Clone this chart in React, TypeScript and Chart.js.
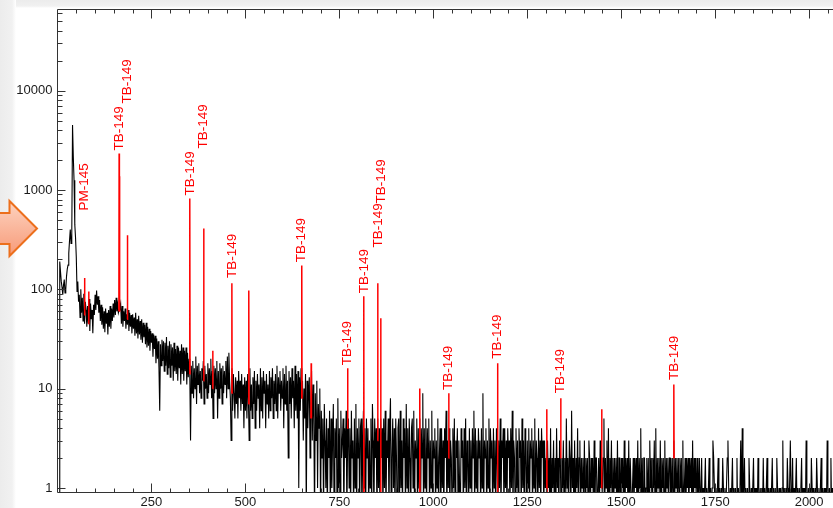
import { useEffect, useRef } from "react";
import { Chart, registerables } from "chart.js";

Chart.register(...registerables);

// ---- data ----
const CH_STEP = 2; // channels between successive spectrum samples
// counts per sample, channel = index * CH_STEP (0 .. 2066)
const spectrumCounts = [
  0, 0, 0, 190, 150, 120, 105, 88, 110, 125,
  92, 100, 135, 160, 175, 230, 310, 400, 290, 360,
  4500, 2200, 1250, 450, 330, 210, 95, 120, 75, 88,
  52, 100, 58, 82, 48, 90, 45, 75, 62, 42,
  68, 45, 80, 38, 72, 50, 62, 36, 70, 55,
  88, 62, 97, 70, 85, 58, 78, 48, 70, 44,
  66, 40, 60, 37, 64, 45, 58, 35, 62, 42,
  68, 40, 64, 48, 72, 52, 78, 55, 82, 60,
  70, 58, 62, 66, 72, 45, 68, 42, 60, 48,
  64, 40, 56, 44, 62, 38, 58, 42, 55, 36,
  56, 40, 52, 34, 58, 36, 50, 32, 54, 35,
  48, 31, 50, 29, 46, 33, 44, 28, 46, 26,
  42, 27, 40, 24, 38, 29, 36, 21, 35, 25,
  34, 18, 32, 20, 30, 16, 6, 28, 17, 31,
  19, 30, 15, 29, 17, 33, 14, 27, 16, 30,
  13, 28, 17, 26, 12, 29, 15, 25, 14, 27,
  12, 26, 16, 24, 11, 28, 14, 26, 12, 24,
  15, 26, 11, 23, 13, 20, 14, 3, 17, 9,
  19, 8, 16, 10, 21, 7, 17, 11, 18, 9,
  15, 8, 16, 12, 19, 7, 17, 10, 14, 8,
  18, 9, 16, 11, 20, 8, 15, 5, 17, 9,
  16, 10, 19, 5, 15, 8, 18, 10, 16, 7,
  17, 9, 15, 11, 19, 8, 21, 10, 23, 12,
  8, 3, 16, 6, 14, 9, 5, 13, 7, 12,
  5, 15, 8, 12, 6, 14, 7, 11, 4, 13,
  6, 12, 5, 14, 8, 3, 16, 6, 11, 5,
  13, 7, 15, 4, 12, 6, 14, 8, 11, 4,
  16, 6, 13, 5, 15, 9, 12, 4, 14, 7,
  11, 5, 15, 6, 13, 8, 16, 5, 12, 7,
  14, 6, 17, 5, 13, 9, 15, 6, 12, 8,
  16, 4, 14, 7, 17, 6, 12, 2, 15, 7,
  13, 5, 16, 8, 12, 4, 17, 6, 14, 5,
  15, 1, 13, 6, 16, 8, 12, 3, 10, 5,
  14, 0, 12, 4, 9, 13, 2, 7, 15, 3,
  11, 5, 0, 9, 3, 12, 1, 7, 4, 10,
  0, 6, 2, 5, 0, 7, 3, 1, 5, 0,
  4, 2, 6, 0, 5, 1, 3, 7, 0, 4,
  2, 5, 0, 8, 1, 4, 0, 6, 2, 3,
  5, 0, 4, 2, 6, 0, 3, 5, 1, 4,
  0, 6, 2, 3, 0, 5, 1, 7, 0, 4,
  2, 5, 0, 4, 5, 0, 2, 6, 1, 4,
  0, 5, 2, 4, 0, 3, 1, 5, 0, 7,
  3, 0, 5, 2, 4, 0, 5, 1, 4, 0,
  5, 2, 4, 0, 5, 1, 6, 0, 3, 2,
  5, 0, 4, 8, 0, 2, 5, 1, 4, 0,
  5, 2, 0, 4, 5, 0, 6, 1, 3, 0,
  5, 2, 4, 0, 7, 1, 4, 0, 5, 2,
  0, 4, 5, 1, 6, 0, 3, 2, 5, 0,
  4, 1, 5, 0, 4, 2, 9, 0, 4, 1,
  5, 0, 4, 2, 5, 0, 3, 1, 6, 0,
  3, 2, 4, 0, 3, 1, 5, 0, 2, 4,
  0, 4, 1, 3, 0, 4, 2, 6, 0, 3,
  1, 4, 0, 3, 2, 0, 4, 1, 5, 0,
  3, 2, 4, 0, 3, 1, 0, 4, 2, 3,
  0, 4, 1, 5, 0, 3, 2, 0, 4, 1,
  3, 0, 4, 2, 6, 0, 4, 1, 3, 0,
  4, 2, 3, 0, 4, 1, 9, 0, 3, 2,
  4, 0, 3, 1, 5, 0, 4, 2, 3, 0,
  4, 1, 3, 0, 4, 2, 0, 3, 1, 5,
  0, 3, 2, 4, 0, 4, 1, 3, 0, 4,
  2, 3, 0, 4, 1, 6, 0, 3, 2, 0,
  4, 1, 3, 0, 4, 2, 3, 0, 5, 1,
  3, 0, 4, 2, 0, 3, 1, 4, 0, 3,
  2, 4, 0, 3, 1, 5, 0, 3, 2, 0,
  4, 1, 3, 0, 4, 2, 3, 0, 3, 1,
  2, 0, 3, 1, 2, 0, 4, 0, 2, 1,
  3, 0, 2, 0, 4, 1, 2, 0, 3, 2,
  0, 2, 1, 3, 0, 2, 0, 5, 1, 2,
  0, 3, 2, 0, 6, 1, 2, 0, 3, 0,
  2, 1, 4, 0, 2, 3, 0, 2, 1, 2,
  0, 3, 0, 2, 1, 2, 0, 3, 2, 0,
  2, 1, 2, 0, 3, 0, 2, 2, 0, 1,
  2, 0, 3, 1, 2, 0, 2, 5, 0, 2,
  1, 3, 0, 4, 0, 2, 1, 3, 0, 2,
  0, 2, 1, 2, 0, 3, 0, 2, 2, 0,
  2, 1, 2, 0, 3, 0, 2, 1, 2, 0,
  3, 0, 2, 2, 0, 1, 2, 0, 2, 1,
  2, 0, 3, 0, 2, 1, 4, 0, 2, 0,
  2, 2, 0, 1, 2, 0, 2, 0, 3, 1,
  2, 0, 2, 1, 3, 0, 4, 0, 2, 1,
  2, 0, 3, 0, 2, 1, 2, 0, 3, 0,
  2, 1, 2, 0, 2, 2, 0, 1, 2, 0,
  3, 0, 2, 1, 2, 0, 2, 0, 2, 1,
  2, 0, 3, 0, 1, 2, 0, 2, 1, 2,
  0, 2, 1, 2, 0, 3, 0, 2, 1, 2,
  0, 2, 0, 1, 2, 0, 1, 2, 0, 1,
  0, 1, 2, 0, 1, 0, 1, 2, 0, 1,
  0, 1, 3, 2, 1, 0, 1, 0, 1, 2,
  0, 1, 0, 1, 0, 2, 1, 0, 1, 0,
  1, 2, 3, 1, 0, 1, 0, 1, 2, 0,
  1, 0, 1, 0, 2, 0, 1, 0, 1, 3,
  0, 4, 0, 1, 2, 0, 1, 0, 1, 0,
  2, 1, 0, 1, 0, 1, 2, 0, 1, 0,
  1, 0, 2, 1, 0, 1, 0, 1, 0, 2,
  0, 1, 0, 1, 2, 0, 1, 0, 1, 0,
  1, 2, 0, 1, 0, 1, 0, 2, 1, 0,
  1, 0, 1, 0, 1, 3, 0, 1, 0, 1,
  0, 2, 1, 0, 1, 3, 1, 0, 2, 0,
  1, 0, 1, 2, 0, 1, 0, 1, 0, 1,
  2, 0, 1, 0, 1, 0, 3, 1, 0, 1,
  0, 1, 0, 2, 1, 0, 1, 0, 1, 0,
  2, 1, 0, 1, 0, 1, 2, 0, 1, 0,
  1, 0, 1, 0, 3, 1, 0, 1, 0, 2,
  0, 1, 0, 1,
];

// identified peaks (drawn in red)
const peakChannels = [72, 83, 164, 165, 186, 352, 389, 413, 464, 509, 650, 675, 772, 815, 852, 860, 964, 1041, 1171, 1302, 1339, 1448, 1640];
const peakCounts = [130, 95, 2330, 1370, 350, 820, 410, 24, 115, 97, 174, 18, 16, 85, 115, 51, 10, 9, 18, 6.2, 8, 6.2, 11];
const peakBaseCounts = [55, 45, 60, 60, 50, 14, 12, 10, 9, 7, 8, 5, 4, 0, 3, 0, 0, 2, 0, 0, 2, 1, 2];

// peak labels
const labelTexts = ["PM-145", "TB-149", "TB-149", "TB-149", "TB-149", "TB-149", "TB-149", "TB-149", "TB-149", "TB-149", "TB-149", "TB-149", "TB-149", "TB-149", "TB-149"];
const labelChannels = [72, 164, 186, 352, 389, 464, 650, 772, 815, 853, 862, 1041, 1171, 1339, 1640];
const labelCounts = [622, 2500, 7400, 880, 2610, 130, 187, 17.2, 91, 264, 731, 9.7, 20, 9.0, 12.2];

const xTickValues = [250, 500, 750, 1000, 1250, 1500, 1750, 2000];
const yTickValues = [1, 10, 100, 1000, 10000];
const X_MIN = 0;
const X_MAX = 2100;
const X_MINOR_STEP = 50;
const Y_MIN = 0.9;
const Y_MAX = 65536;
const ZERO_PLOT = 0.5; // zero counts are drawn below the axis floor

const FONT = '"Liberation Sans", Arial, Helvetica, sans-serif';

const framePlugin = {
  id: "frame",
  beforeDraw(chart: any) {
    const { ctx, width, height } = chart;
    ctx.save();
    ctx.fillStyle = "#ffffff";
    ctx.fillRect(0, 0, width, height);
    const gl = ctx.createLinearGradient(0, 0, 16, 0);
    gl.addColorStop(0, "#ececec");
    gl.addColorStop(0.75, "#f1f1f1");
    gl.addColorStop(1, "#ffffff");
    ctx.fillStyle = gl;
    ctx.fillRect(0, 0, 16, height);
    const gt = ctx.createLinearGradient(0, 0, 0, 8);
    gt.addColorStop(0, "#ececec");
    gt.addColorStop(0.75, "#f1f1f1");
    gt.addColorStop(1, "#ffffff");
    ctx.fillStyle = gt;
    ctx.fillRect(16, 0, width, 8);
    // orange arrow
    ctx.beginPath();
    ctx.moveTo(-10, 213);
    ctx.lineTo(9.5, 213);
    ctx.lineTo(9.5, 201);
    ctx.lineTo(37, 228.5);
    ctx.lineTo(9.5, 256);
    ctx.lineTo(9.5, 244);
    ctx.lineTo(-10, 244);
    ctx.closePath();
    const ga = ctx.createLinearGradient(0, 201, 0, 256);
    ga.addColorStop(0, "#fdd3c0");
    ga.addColorStop(1, "#f79a78");
    ctx.fillStyle = ga;
    ctx.fill();
    ctx.strokeStyle = "#ec6f1c";
    ctx.lineWidth = 2;
    ctx.lineJoin = "miter";
    ctx.stroke();
    ctx.restore();
  },
  afterDatasetsDraw(chart: any) {
    const { ctx, chartArea } = chart;
    const xs = chart.scales.x;
    const ys = chart.scales.y;
    const { left, right, top, bottom } = chartArea;
    ctx.save();
    ctx.strokeStyle = "#333333";
    ctx.lineWidth = 1;
    ctx.beginPath();
    // axis lines
    ctx.moveTo(left, top);
    ctx.lineTo(left, bottom);
    ctx.moveTo(left, bottom);
    ctx.lineTo(right, bottom);
    ctx.moveTo(left, top);
    ctx.lineTo(right, top);
    // x ticks
    for (let v = X_MIN + X_MINOR_STEP; v <= X_MAX; v += X_MINOR_STEP) {
      const px = Math.round(xs.getPixelForValue(v)) + 0.5;
      const len = v % 250 === 0 ? 9 : 4;
      ctx.moveTo(px, bottom);
      ctx.lineTo(px, bottom - len);
      ctx.moveTo(px, top);
      ctx.lineTo(px, top + len);
    }
    // y ticks
    for (const d of yTickValues) {
      for (let m = 1; m <= 9; m++) {
        const v = d * m;
        if (v < Y_MIN || v > Y_MAX) continue;
        const py = Math.round(ys.getPixelForValue(v)) + 0.5;
        const len = m === 1 ? 8 : 5;
        ctx.moveTo(left, py);
        ctx.lineTo(left + len, py);
      }
    }
    ctx.stroke();
    // labels
    ctx.fillStyle = "#ff0000";
    ctx.font = "13.5px " + FONT;
    ctx.textAlign = "left";
    ctx.textBaseline = "middle";
    labelChannels.forEach((ch, i) => {
      const x = xs.getPixelForValue(ch);
      const y = ys.getPixelForValue(labelCounts[i]);
      ctx.save();
      ctx.translate(x, y);
      ctx.rotate(-Math.PI / 2);
      ctx.fillText(labelTexts[i], 0, 0);
      ctx.restore();
    });
    ctx.restore();
  },
};

export default function App() {
  const canvasRef = useRef<HTMLCanvasElement | null>(null);

  useEffect(() => {
    document.body.style.margin = "0";
    document.body.style.overflow = "hidden";
    const canvas = canvasRef.current;
    if (!canvas) return;

    const plotCount = (v: number) => (v > 0 ? v : ZERO_PLOT);
    const spectrumData = spectrumCounts.map((v, i) => ({ x: i * CH_STEP, y: plotCount(v) }));
    const peakData: any[] = [];
    peakChannels.forEach((ch, i) => {
      peakData.push({ x: ch - 0.7, y: plotCount(peakBaseCounts[i]) });
      peakData.push({ x: ch, y: peakCounts[i] });
      peakData.push({ x: ch + 0.7, y: plotCount(peakBaseCounts[i]) });
      peakData.push({ x: ch + 0.7, y: null });
    });

    const chart = new Chart(canvas, {
      type: "line",
      data: {
        datasets: [
          {
            label: "peaks",
            data: peakData,
            borderColor: "#ff0000",
            borderWidth: 1.5,
            pointRadius: 0,
            tension: 0,
            spanGaps: false,
            order: 0,
          },
          {
            label: "spectrum",
            data: spectrumData,
            borderColor: "#000000",
            borderWidth: 1.1,
            pointRadius: 0,
            tension: 0,
            order: 1,
          },
        ],
      },
      options: {
        responsive: false,
        animation: false,
        devicePixelRatio: 1,
        events: [],
        layout: { padding: { top: 9.5, right: 53.3, bottom: 0, left: 0 } },
        plugins: { legend: { display: false }, tooltip: { enabled: false } },
        scales: {
          x: {
            type: "linear",
            min: X_MIN,
            max: X_MAX,
            grid: { display: false, drawTicks: false },
            border: { display: false },
            afterBuildTicks: (s: any) => {
              s.ticks = xTickValues.map((v) => ({ value: v }));
            },
            afterFit: (s: any) => {
              s.height = 15.5;
              s.paddingLeft = 0;
              s.paddingRight = 0;
            },
            ticks: {
              autoSkip: false,
              maxRotation: 0,
              padding: 2,
              color: "#1a1a1a",
              font: { family: FONT, size: 13 },
              callback: (v: any) => String(v),
            },
          },
          y: {
            type: "logarithmic",
            min: Y_MIN,
            max: Y_MAX,
            grid: { display: false, drawTicks: false },
            border: { display: false },
            afterBuildTicks: (s: any) => {
              s.ticks = yTickValues.map((v) => ({ value: v }));
            },
            afterFit: (s: any) => {
              s.width = 57.5;
              s.paddingTop = 0;
              s.paddingBottom = 0;
            },
            ticks: {
              autoSkip: false,
              padding: 5,
              color: "#1a1a1a",
              font: { family: FONT, size: 13 },
              callback: (v: any) => String(v),
            },
          },
        },
      },
      plugins: [framePlugin],
    });
    return () => chart.destroy();
  }, []);

  return (
    <div style={{ width: 833, height: 508, overflow: "hidden", position: "relative" }}>
      <canvas ref={canvasRef} width={900} height={508} style={{ display: "block" }} />
    </div>
  );
}
